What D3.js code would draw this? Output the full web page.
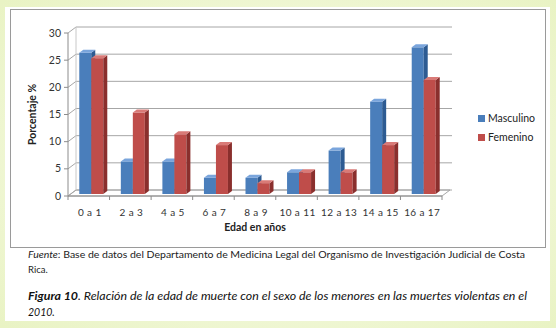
<!DOCTYPE html>
<html><head><meta charset="utf-8">
<script src="https://cdn.jsdelivr.net/npm/d3@7"></script>
<style>body{margin:0;background:#eef5d0;}svg{display:block;font-family:Lato, "Open Sans", sans-serif;}</style>
</head><body>
<svg id="c" width="556" height="328"></svg>
<script>
const categories = ["0 a 1","2 a 3","4 a 5","6 a 7","8 a 9","10 a 11","12 a 13","14 a 15","16 a 17"];
const masculino = [26, 6, 6, 3, 3, 4, 8, 17, 27];
const femenino  = [25, 15, 11, 9, 2, 4, 4, 9, 21];
const seriesNames = ["Masculino","Femenino"];
const yTicks = [0,5,10,15,20,25,30];

const svg = d3.select("#c");
const defs = svg.append("defs");
const g0 = defs.append("radialGradient").attr("id","bg").attr("cx","50%").attr("cy","50%").attr("r","70%");
g0.append("stop").attr("offset","0%").attr("stop-color","#fbfdf0");
g0.append("stop").attr("offset","100%").attr("stop-color","#e9f3c4");
svg.append("rect").attr("width",556).attr("height",328).attr("fill","url(#bg)");
svg.append("rect").attr("x",5).attr("y",7).attr("width",545).attr("height",314).attr("fill","#ffffff");
svg.append("rect").attr("x",10.5).attr("y",9.5).attr("width",535).attr("height",238).attr("fill","#fff").attr("stroke","#9a9a9a").attr("stroke-width",1);

const x0 = 68, x1 = 442;
const DX = 8, DY = -6;
const x = d3.scaleBand().domain(categories).range([x0, x1]);
const y = d3.scaleLinear().domain([0,30]).range([196, 33]);

const grid = "#a6a6a6";
svg.append("path").attr("d",`M${x0},${y(0)}L${x1},${y(0)}L${x1+DX},${y(0)+DY}L${x0+DX},${y(0)+DY}Z`)
  .attr("fill","#fff").attr("stroke",grid).attr("stroke-width",1);
yTicks.forEach(v=>{
  svg.append("path").attr("d",`M${x0},${y(v)}L${x0+DX},${y(v)+DY}L${x1+DX+2},${y(v)+DY}`)
    .attr("fill","none").attr("stroke",grid).attr("stroke-width",1);
});
svg.append("line").attr("x1",x0+DX).attr("x2",x0+DX).attr("y1",y(30)+DY).attr("y2",y(0)+DY).attr("stroke","#c8c8c8");
svg.append("line").attr("x1",x0).attr("x2",x0).attr("y1",y(30)).attr("y2",y(0)).attr("stroke","#8c8c8c");
yTicks.forEach(v=>{
  svg.append("line").attr("x1",x0-4).attr("x2",x0).attr("y1",y(v)).attr("y2",y(v)).attr("stroke","#8c8c8c");
  svg.append("text").attr("x",x0-7).attr("y",y(v)+3.5).attr("text-anchor","end")
    .attr("font-size",10.5).attr("fill","#333").text(v);
});
svg.append("line").attr("x1",x0).attr("x2",x1).attr("y1",y(0)).attr("y2",y(0)).attr("stroke","#8c8c8c");
d3.range(categories.length+1).forEach(i=>{
  const xx = x0 + i*x.step();
  svg.append("line").attr("x1",xx).attr("x2",xx).attr("y1",y(0)).attr("y2",y(0)+4).attr("stroke","#8c8c8c");
});
categories.forEach(c=>{
  svg.append("text").attr("x",x(c)+x.bandwidth()/2+1).attr("y",y(0)+20).attr("text-anchor","middle")
    .attr("font-size",10).attr("letter-spacing",0.4).attr("fill","#333").text(c);
});

const colors = [
  {front:"#4a7ebb", top:"#7aa5dc", side:"#2d5b92"},
  {front:"#bf4d4a", top:"#d97a77", side:"#8a2f2d"}
];
const bw = 12, sx = 2.5, sy = -2, bdx = 4, bdy = -3;
const data = [masculino, femenino];
const barsG = svg.append("g");
categories.forEach((c,i)=>{
  const cx = x(c) + x.bandwidth()/2;
  data.forEach((arr,s)=>{
    const v = arr[i];
    const left = cx - bw + s*bw + sx;
    const right = left + bw;
    const top = y(v) + sy, bot = y(0) + sy;
    const col = colors[s];
    barsG.append("rect").attr("x",left).attr("y",top).attr("width",bw).attr("height",bot-top).attr("fill",col.front);
    barsG.append("path").attr("d",`M${right},${top}L${right+bdx},${top+bdy}L${right+bdx},${bot+bdy}L${right},${bot}Z`).attr("fill",col.side);
    barsG.append("path").attr("d",`M${left},${top}L${left+bdx},${top+bdy}L${right+bdx},${top+bdy}L${right},${top}Z`).attr("fill",col.top);
  });
});

svg.append("text").attr("transform",`translate(36,${(y(0)+y(30))/2}) rotate(-90)`).attr("text-anchor","middle")
  .attr("font-size",10.5).attr("font-weight","bold").attr("fill","#222").text("Porcentaje %");
svg.append("text").attr("x",255).attr("y",231).attr("text-anchor","middle")
  .attr("font-size",10.5).attr("font-weight","bold").attr("fill","#222").text("Edad en años");

seriesNames.forEach((n,s)=>{
  svg.append("rect").attr("x",478).attr("y",115+s*19).attr("width",7).attr("height",7).attr("fill",colors[s].front);
  svg.append("text").attr("x",488).attr("y",122+s*19).attr("font-size",10.5).attr("fill","#222").text(n);
});

function fitText(sel, target){
  const len = sel.node().getComputedTextLength();
  if(len>0){ sel.attr("textLength",target).attr("lengthAdjust","spacingAndGlyphs"); }
}
const f1 = svg.append("text").attr("x",28).attr("y",258).attr("font-size",9.5).attr("fill","#222");
f1.append("tspan").attr("font-style","italic").text("Fuente");
f1.append("tspan").text(": Base de datos del Departamento de Medicina Legal del Organismo de Investigación Judicial de Costa");
fitText(f1, 497);
svg.append("text").attr("x",28).attr("y",273).attr("font-size",9.5).attr("fill","#222").text("Rica.");
const f2 = svg.append("text").attr("x",28).attr("y",300).attr("font-size",10.5).attr("font-style","italic").attr("fill","#111");
f2.append("tspan").attr("font-weight","bold").text("Figura 10");
f2.append("tspan").text(". Relación de la edad de muerte con el sexo de los menores en las muertes violentas en el");
fitText(f2, 499);
svg.append("text").attr("x",28).attr("y",316).attr("font-size",10.5).attr("font-style","italic").attr("fill","#111").text("2010.");
</script>
</body></html>
